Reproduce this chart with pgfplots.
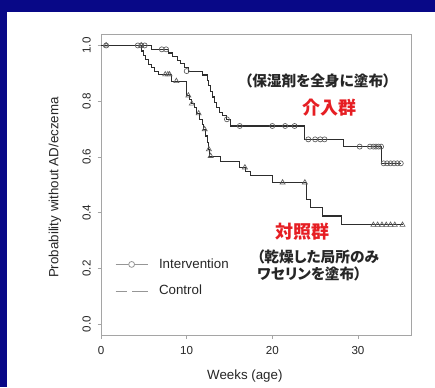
\documentclass[border=0pt]{standalone}
\usepackage{pgfplots}
\pgfplotsset{compat=1.18}
\usepackage{fontspec}
\setmainfont{Liberation Sans}
\newfontfamily\cjk[RawFeature=+palt]{Noto Sans CJK JP}
\definecolor{navybg}{RGB}{8,8,135}
\definecolor{jred}{RGB}{230,30,35}
\definecolor{curve}{RGB}{45,45,45}
\definecolor{markc}{RGB}{95,95,95}
\definecolor{lgray}{RGB}{150,150,150}
\definecolor{frame}{RGB}{165,165,165}
\begin{document}
\begin{tikzpicture}
\fill[navybg] (0pt,0pt) rectangle (326.25pt,290.25pt);
\fill[white] (5.25pt,0pt) rectangle (326.25pt,281.25pt);
\begin{axis}[
  at={(75.75pt,38.78pt)}, anchor=south west,
  scale only axis, width=233pt, height=225.75pt,
  xmin=0, xmax=36.27, ymin=-0.04, ymax=1.04,
  separate axis lines,
  axis line style={frame, line width=0.6pt},
  every outer x axis line/.append style={frame, line width=0.6pt},
  every outer y axis line/.append style={frame, line width=0.6pt},
  xtick={0,10,20,30}, ytick={0,0.2,0.4,0.6,0.8,1.0},
  tick align=outside, xtick pos=bottom, ytick pos=left,
  major tick length=2.5pt,
  tick style={frame, line width=0.5pt},
  /pgf/number format/assume math mode=true,
  ticklabel style={font=\fontsize{8.7}{10}\selectfont, text=black!85},
  y tick label style={rotate=90, anchor=center, yshift=8.25pt, /pgf/number format/.cd, fixed, fixed zerofill, precision=1},
  x tick label style={anchor=center, yshift=-9pt},
  xlabel={Weeks (age)}, ylabel={Probability without AD/eczema},
  xlabel style={at={(axis description cs:0.463,0)}, anchor=center, yshift=-30.5pt, font=\fontsize{10}{12}\selectfont, text=black!85},
  ylabel style={at={(axis description cs:0,0.491)}, anchor=center, yshift=34.5pt, font=\fontsize{10}{12}\selectfont, text=black!85},
  legend style={at={(axis cs:1.63,0.1665)}, anchor=west, draw=none, fill=none, inner sep=0pt,
    row sep=11.25pt, nodes={inner sep=0pt}, font=\fontsize{10}{12}\selectfont, text=black!85,
    /tikz/every odd column/.append style={column sep=8.25pt}},
  legend cell align=left,
]
% Intervention (step curve)
\addplot[const plot, curve, line width=0.8pt, forget plot] coordinates {
(0,1.0) (5.9,0.986) (7.9,0.973) (8.4,0.960) (8.9,0.947) (9.3,0.935) (9.7,0.922)
(10.2,0.908) (11.8,0.894) (12.4,0.875) (12.6,0.855) (12.8,0.835) (13.0,0.815)
(13.2,0.795) (13.5,0.777) (13.8,0.759) (14.2,0.747) (14.6,0.735) (15.1,0.711)
(23.8,0.663) (28.3,0.637) (32.8,0.577) (35.0,0.577)};
% Intervention censor marks
\addplot[only marks, mark=o, mark size=1.9pt, markc, mark options={line width=0.5pt}, forget plot] coordinates {
(0.6,1.0) (4.3,1.0) (4.7,1.0) (5.1,1.0) (7.1,0.986) (7.6,0.986) (10.0,0.908)
(14.7,0.735) (16.2,0.711) (20.0,0.711) (21.5,0.711) (22.6,0.711)
(24.2,0.663) (25.0,0.663) (25.6,0.663) (26.1,0.663)
(30.2,0.637) (31.4,0.637) (31.8,0.637) (32.1,0.637) (32.4,0.637) (32.7,0.637)
(33.0,0.577) (33.4,0.577) (33.8,0.577) (34.2,0.577) (34.6,0.577) (35.0,0.577)};
% Control (step curve)
\addplot[const plot, curve, line width=0.8pt, forget plot] coordinates {
(0,1.0) (4.75,0.980) (5.0,0.965) (5.2,0.950) (5.5,0.932) (5.9,0.920) (6.3,0.908)
(6.7,0.896) (8.2,0.872) (10.0,0.820) (10.3,0.806) (10.6,0.791) (10.9,0.777)
(11.2,0.756) (11.5,0.735) (11.8,0.717) (12.0,0.699) (12.2,0.675) (12.4,0.651)
(12.6,0.627) (12.7,0.603) (13.9,0.585) (16.2,0.562) (16.9,0.548) (17.5,0.532)
(20.0,0.508) (24.0,0.448) (24.5,0.418) (25.9,0.388) (28.1,0.356) (35.2,0.356)};
% Control censor marks
\addplot[only marks, mark=triangle, mark size=2.2pt, markc, mark options={line width=0.5pt}, forget plot] coordinates {
(0.6,1.0) (4.7,1.0) (7.5,0.896) (7.8,0.896) (8.0,0.896) (8.8,0.872)
(10.2,0.820) (10.6,0.791) (11.4,0.756) (12.1,0.699) (12.6,0.627) (12.8,0.603)
(16.8,0.562) (21.2,0.508) (23.8,0.508)
(31.8,0.356) (32.3,0.356) (32.8,0.356) (33.3,0.356) (33.8,0.356) (34.3,0.356) (35.2,0.356)};
\addlegendimage{legend image code/.code={
  \draw[lgray, line width=0.6pt] (0pt,0pt) -- (24pt,0pt);
  \draw[lgray, line width=0.6pt, fill=white] (12pt,0pt) circle (2.2pt);}}
\addlegendentry{Intervention}
\addlegendimage{legend image code/.code={
  \draw[lgray, line width=0.6pt] (0pt,0pt) -- (8.75pt,0pt);
  \draw[lgray, line width=0.6pt] (12.5pt,0pt) -- (24pt,0pt);}}
\addlegendentry{Control}
% annotations
\node[font=\cjk\bfseries\fontsize{11}{13}\selectfont, text=black!85, anchor=center] at (axis cs:25.3,0.871) {（保湿剤を全身に塗布）};
\node[font=\cjk\bfseries\fontsize{13.5}{15}\selectfont, text=jred, anchor=center] at (axis cs:26.7,0.778) {介入群};
\node[font=\cjk\bfseries\fontsize{13.5}{15}\selectfont, text=jred, anchor=center] at (axis cs:23.5,0.330) {対照群};
\node[font=\cjk\bfseries\fontsize{11}{13}\selectfont, text=black!85, anchor=west, inner sep=0pt] at (axis cs:18.2,0.240) {（乾燥した局所のみ};
\node[font=\cjk\bfseries\fontsize{11}{13}\selectfont, text=black!85, anchor=west, inner sep=0pt] at (axis cs:18.2,0.179) {ワセリンを塗布）};
\end{axis}
\pgfresetboundingbox
\useasboundingbox (0pt,0pt) rectangle (326.25pt,290.25pt);
\end{tikzpicture}
\end{document}
